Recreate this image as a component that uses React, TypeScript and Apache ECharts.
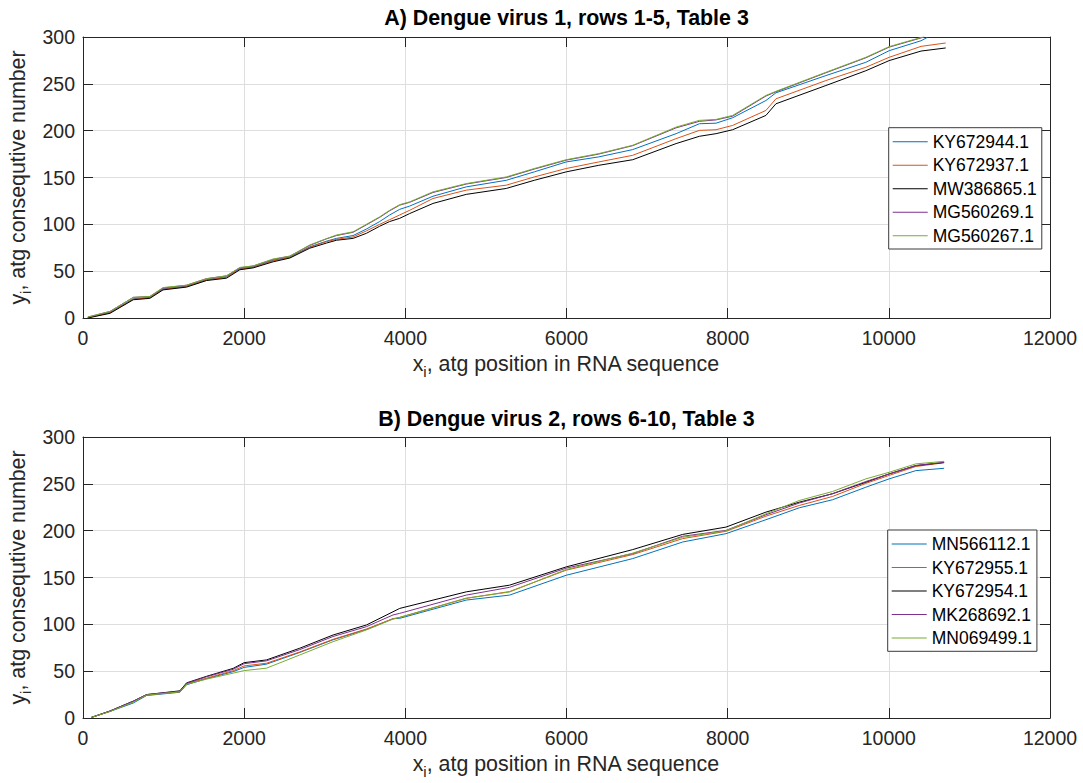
import React, { useEffect, useRef } from "react";
import * as echarts from "echarts";

const FONT = '"Liberation Sans", Arial, Helvetica, sans-serif';
const AXIS_COLOR = "#262626";

// Series names shown in the two legends
const namesA = ["KY672944.1", "KY672937.1", "MW386865.1", "MG560269.1", "MG560267.1"];
const namesB = ["MN566112.1", "KY672955.1", "KY672954.1", "MK268692.1", "MN069499.1"];
const lineColors = ["#0072BD", "#D95319", "#000000", "#7E2F8E", "#77AC30"];

const titleA = "A) Dengue virus 1, rows 1-5, Table 3";
const titleB = "B) Dengue virus 2, rows 6-10, Table 3";

const xTicks = [0, 2000, 4000, 6000, 8000, 10000, 12000];
const yTicks = [0, 50, 100, 150, 200, 250, 300];

// Panel A: atg positions (x) and consecutive counts (y) per sequence
const xA = [60, 335, 624, 830, 993, 1285, 1533, 1781, 1946, 2111, 2359, 2566, 2814, 3021, 3145, 3351, 3517, 3682, 3806, 3930, 4054, 4343, 4756, 5252, 5600, 5996, 6400, 6822, 7360, 7649, 7856, 8062, 8475, 8599, 9219, 9715, 10004, 10400];
const yA_KY672944 = [0.5, 6, 20.5, 22, 31, 34, 41, 44, 52.5, 54.5, 61.5, 65, 76, 82, 85, 88, 95, 103, 110, 116, 119.5, 130, 140, 147, 156, 166.6, 172, 179.8, 196.8, 207.4, 208, 213.8, 232.2, 240.4, 258.8, 273, 285.4, 296];
const yA_KY672937 = [0.5, 5.5, 20, 21.5, 30.5, 33.5, 40.5, 43.5, 52, 54, 61, 64.5, 75.5, 81.5, 84, 86.5, 93, 100, 105, 110, 115, 127.6, 136.5, 141.8, 150.6, 159.6, 166.6, 173.7, 191.5, 200.3, 201, 205.6, 221.6, 234, 253.5, 267.7, 278.3, 290];
const yA_MW386865 = [0, 5, 19.5, 21, 30, 33, 40, 42.5, 51.5, 53.5, 60, 64, 74.5, 80, 83, 85, 90.4, 98, 103, 106.4, 111.5, 122.3, 132, 138.3, 147, 156, 163, 169, 186.2, 194, 196.8, 201, 216.3, 228.7, 248.2, 264, 274.8, 285];
const yA_MG560269 = [1, 7, 22, 23, 32, 35, 42, 45, 53.5, 55.5, 62.5, 66, 77.5, 84.5, 88, 91.5, 99.5, 107.5, 114.5, 120.5, 123.5, 134, 143, 150, 159, 168.5, 175, 184, 203, 210, 211.5, 215.5, 237, 241.5, 261.8, 277.8, 289.2, 299];
const yA_MG560267 = [1, 7, 22, 23, 32.5, 35, 42, 45, 54, 55.6, 63, 66, 78, 84.7, 88.6, 92, 100, 108, 115, 121, 124, 134.7, 143.5, 150.6, 159.6, 169, 175.5, 184.4, 203.8, 211, 212, 216.3, 237.6, 242, 262.3, 278.3, 289.7, 299.5];
// last point of each panel A sequence
const endA: number[][] = [[10479, 299.6], [10706, 293.6], [10706, 288.3], [10440, 300], [10430, 300]];

// Panel B
const xB = [100, 335, 624, 789, 1202, 1285, 1533, 1864, 2000, 2277, 2690, 3103, 3517, 3847, 3930, 4756, 5293, 5996, 6822, 7441, 7979, 8475, 8888, 9301, 9715, 10004, 10335, 10686];
const yB_MN566112 = [0.5, 7, 16, 24, 27.5, 35.5, 42, 49.5, 54, 57.5, 70, 83.5, 94.5, 106, 106.4, 125.9, 131.2, 152.4, 170.2, 187.9, 196.8, 211.7, 224.4, 233, 246.4, 255.3, 264.1, 266.6];
const yB_KY672955 = [0.5, 7, 17.5, 24.5, 28, 36.5, 42.5, 50.5, 55.6, 58.5, 70.5, 84, 95, 106, 107.4, 127.7, 135, 157.8, 174.5, 191.5, 199.3, 215.5, 226.9, 236.5, 250.5, 259, 268.5, 272.5];
const yB_KY672954 = [0.5, 7.5, 18, 25, 29, 37.5, 44.5, 53, 59.1, 62, 74.5, 88.6, 99.3, 113.4, 117, 134.7, 141.8, 161.3, 179.8, 196, 203.8, 219.8, 230.4, 239.4, 251.7, 260.6, 269.5, 272.8];
const yB_MK268692 = [0.5, 7.5, 18, 25, 28.5, 37, 44, 52, 58, 61, 73, 87, 97.5, 110, 111.7, 131.2, 139.5, 160, 175.5, 194, 200.3, 217, 229.5, 239.5, 252.5, 260.5, 269.5, 273];
const yB_MN069499 = [0.5, 7, 17, 24.5, 28, 36, 41.5, 47.9, 50.6, 53.2, 67.3, 81.5, 94, 105.6, 107.4, 128, 134.5, 158.5, 176, 193, 199.8, 218, 232.2, 241.8, 255.3, 262.3, 271.3, 274];

const valuesA = [yA_KY672944, yA_KY672937, yA_MW386865, yA_MG560269, yA_MG560267];
const valuesB = [yB_MN566112, yB_KY672955, yB_KY672954, yB_MK268692, yB_MN069499];

function buildSeries(names: string[], xs: number[], ys: number[][], ends: number[][] | null, axisIndex: number) {
  return names.map((name, k) => {
    const data: number[][] = xs.map((x, j) => [x, ys[k][j]]);
    if (ends && ends[k]) data.push(ends[k]);
    return {
      name,
      type: "line",
      xAxisIndex: axisIndex,
      yAxisIndex: axisIndex,
      data,
      symbol: "none",
      showSymbol: false,
      silent: true,
      clip: true,
      lineStyle: { width: 1, color: lineColors[k] },
      itemStyle: { color: lineColors[k] },
    };
  });
}

function xAxisPair(gridIndex: number) {
  const common = {
    type: "value",
    gridIndex,
    min: xTicks[0],
    max: xTicks[xTicks.length - 1],
    interval: xTicks[1] - xTicks[0],
    axisLine: { show: true, onZero: false, lineStyle: { color: AXIS_COLOR, width: 1 } },
    axisTick: { show: true, inside: true, length: 10, lineStyle: { color: AXIS_COLOR, width: 1 } },
  };
  return [
    {
      ...common,
      position: "bottom",
      axisLabel: { show: true, color: AXIS_COLOR, fontSize: 19.5, fontFamily: FONT, margin: 10, formatter: (v: number) => String(v) },
      splitLine: { show: true, lineStyle: { color: "#dedede", width: 1 } },
    },
    { ...common, position: "top", axisLabel: { show: false }, splitLine: { show: false } },
  ];
}

function yAxisPair(gridIndex: number) {
  const common = {
    type: "value",
    gridIndex,
    min: yTicks[0],
    max: yTicks[yTicks.length - 1],
    interval: yTicks[1] - yTicks[0],
    axisLine: { show: true, onZero: false, lineStyle: { color: AXIS_COLOR, width: 1 } },
    axisTick: { show: true, inside: true, length: 10, lineStyle: { color: AXIS_COLOR, width: 1 } },
  };
  return [
    {
      ...common,
      position: "left",
      axisLabel: { show: true, color: AXIS_COLOR, fontSize: 19.5, fontFamily: FONT, margin: 8, formatter: (v: number) => String(v) },
      splitLine: { show: true, lineStyle: { color: "#dedede", width: 1 } },
    },
    { ...common, position: "right", axisLabel: { show: false }, splitLine: { show: false } },
  ];
}

function legendFor(names: string[], left: number, top: number) {
  return {
    data: names,
    orient: "vertical",
    left,
    top,
    icon: "rect",
    itemWidth: 35,
    itemHeight: 1,
    itemGap: 3.5,
    padding: [4, 5, 3.3, 4],
    backgroundColor: "#ffffff",
    borderColor: "#3a3a3a",
    borderWidth: 1,
    borderRadius: 0,
    selectedMode: false,
    textStyle: { fontSize: 17.5, fontFamily: FONT, color: "#000000", lineHeight: 20 },
  };
}

const LABEL_SIZE = 21.4;
const SUB_SIZE = 15;

function measure(text: string, size: number): number {
  const canvas = document.createElement("canvas");
  const ctx = canvas.getContext("2d");
  if (!ctx) return text.length * size * 0.5;
  ctx.font = `${size}px ${FONT}`;
  return ctx.measureText(text).width;
}

// Axis label with a subscript index, laid out as three text pieces
function subscriptLabel(main: string, sub: string, rest: string, cx: number, cy: number, vertical: boolean) {
  const w1 = measure(main, LABEL_SIZE);
  const w2 = measure(sub, SUB_SIZE);
  const w3 = measure(rest, LABEL_SIZE);
  const x0 = -(w1 + w2 + w3) / 2;
  const base = { textAlign: "left", textVerticalAlign: "middle", fill: AXIS_COLOR };
  return {
    type: "group",
    x: cx,
    y: cy,
    rotation: vertical ? Math.PI / 2 : 0,
    silent: true,
    children: [
      { type: "text", x: x0, y: 0, style: { ...base, text: main, font: `${LABEL_SIZE}px ${FONT}` } },
      { type: "text", x: x0 + w1, y: 7, style: { ...base, text: sub, font: `${SUB_SIZE}px ${FONT}` } },
      { type: "text", x: x0 + w1 + w2, y: 0, style: { ...base, text: rest, font: `${LABEL_SIZE}px ${FONT}` } },
    ],
  };
}

function titleText(text: string, cx: number, cy: number) {
  return {
    type: "text",
    x: cx,
    y: cy,
    silent: true,
    style: { text, font: `bold ${LABEL_SIZE}px ${FONT}`, fill: "#000000", textAlign: "center", textVerticalAlign: "middle" },
  };
}

export default function App() {
  const ref = useRef<HTMLDivElement>(null);

  useEffect(() => {
    if (!ref.current) return;
    const chart = echarts.init(ref.current, undefined, { renderer: "svg" });
    const [xA0, xA1] = xAxisPair(0);
    const [xB0, xB1] = xAxisPair(1);
    const [yA0, yA1] = yAxisPair(0);
    const [yB0, yB1] = yAxisPair(1);

    chart.setOption({
      animation: false,
      backgroundColor: "#ffffff",
      grid: [
        { left: 83, right: 33, top: 37, height: 281, containLabel: false },
        { left: 83, right: 33, top: 437, height: 281, containLabel: false },
      ],
      xAxis: [xA0, xA1, xB0, xB1],
      yAxis: [yA0, yA1, yB0, yB1],
      legend: [legendFor(namesA, 888.7, 127.7), legendFor(namesB, 887.7, 530)],
      series: [
        ...buildSeries(namesA, xA, valuesA, endA, 0).map((s) => ({ ...s, xAxisIndex: 0, yAxisIndex: 0 })),
        ...buildSeries(namesB, xB, valuesB, null, 2).map((s) => ({ ...s, xAxisIndex: 2, yAxisIndex: 2 })),
      ],
      graphic: [
        titleText(titleA, 566.5, 17.7),
        titleText(titleB, 566.5, 419.4),
        subscriptLabel("x", "i", ", atg position in RNA sequence", 566.5, 364, false),
        subscriptLabel("x", "i", ", atg position in RNA sequence", 566.5, 764, false),
        subscriptLabel("y", "i", ", atg consequtive number", 18, 177.5, true),
        subscriptLabel("y", "i", ", atg consequtive number", 18, 577.5, true),
      ],
    });

    return () => {
      chart.dispose();
    };
  }, []);

  return (
    <div
      ref={ref}
      style={{ position: "absolute", left: 0, top: 0, width: 1083, height: 783, background: "#ffffff" }}
    />
  );
}
